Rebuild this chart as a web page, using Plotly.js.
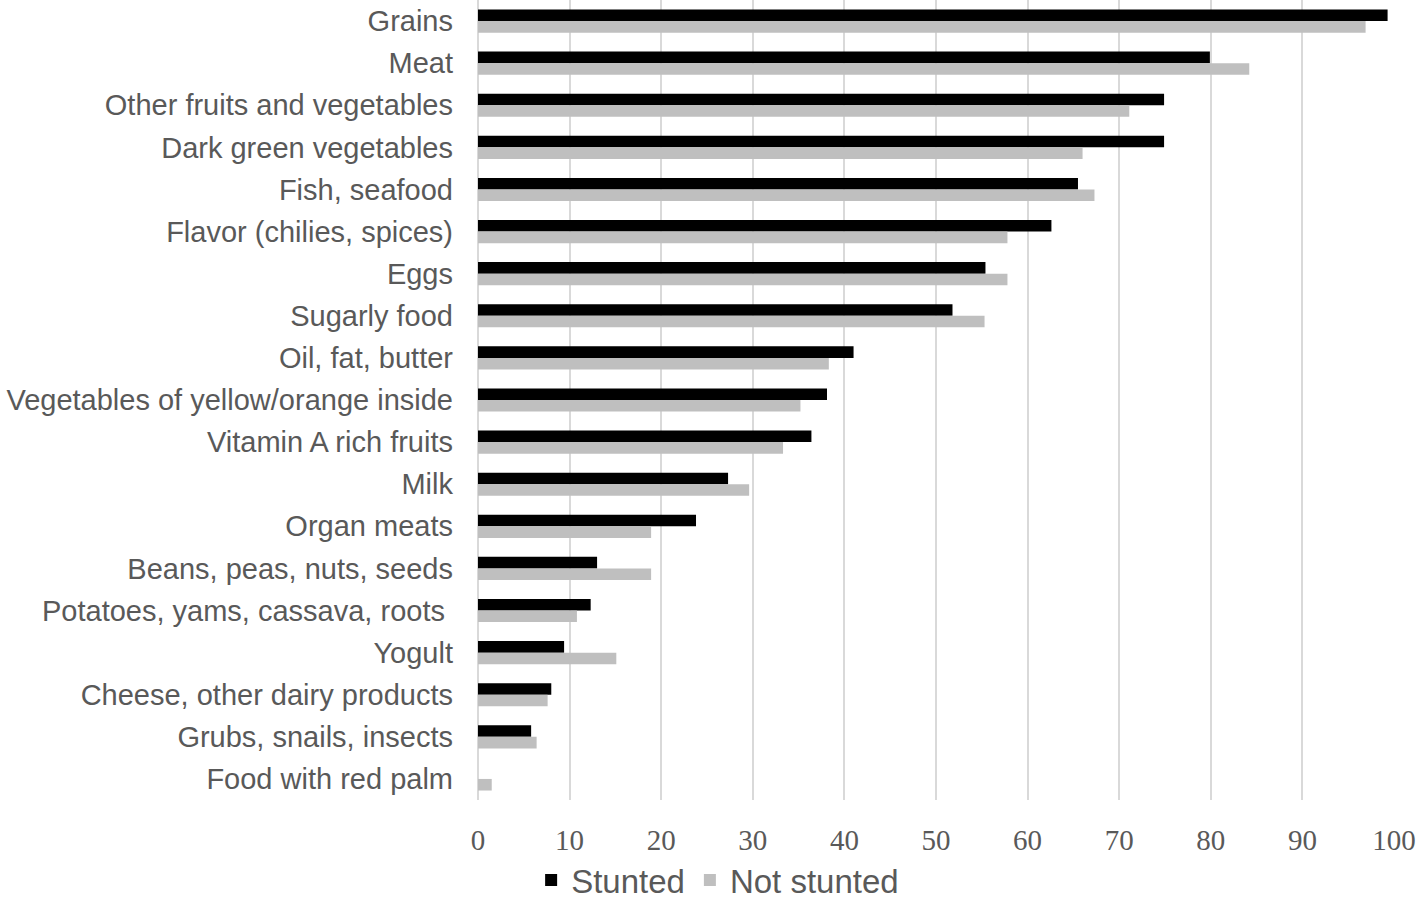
<!DOCTYPE html>
<html>
<head>
<meta charset="utf-8">
<script src="https://cdn.plot.ly/plotly-3.0.1.min.js"></script>
<style>html,body{margin:0;padding:0;background:#fff;}#chart{width:1418px;height:914px;}</style>
</head>
<body>
<div id="chart"></div>
<script>
const categories = [
  "Grains", "Meat", "Other fruits and vegetables", "Dark green vegetables",
  "Fish, seafood", "Flavor (chilies, spices)", "Eggs", "Sugarly food",
  "Oil, fat, butter", "Vegetables of yellow/orange inside", "Vitamin A rich fruits",
  "Milk", "Organ meats", "Beans, peas, nuts, seeds", "Potatoes, yams, cassava, roots ",
  "Yogult", "Cheese, other dairy products", "Grubs, snails, insects", "Food with red palm"
];
const stunted = [99.3, 79.9, 74.9, 74.9, 65.5, 62.6, 55.4, 51.8, 41.0, 38.1, 36.4, 27.3, 23.8, 13.0, 12.3, 9.4, 8.0, 5.8, 0];
const notStunted = [96.9, 84.2, 71.1, 66.0, 67.3, 57.8, 57.8, 55.3, 38.3, 35.2, 33.3, 29.6, 18.9, 18.9, 10.8, 15.1, 7.6, 6.4, 1.5];
const xTicks = [0, 10, 20, 30, 40, 50, 60, 70, 80, 90, 100];

const traces = [
  {type: "bar", orientation: "h", name: "Stunted", y: categories, x: stunted,
   marker: {color: "#000000", line: {width: 0}}},
  {type: "bar", orientation: "h", name: "Not stunted", y: categories, x: notStunted,
   marker: {color: "#bfbfbf", line: {width: 0}}}
];

const layout = {
  width: 1418, height: 914,
  margin: {l: 478, r: 24, t: 0, b: 114, pad: 0},
  paper_bgcolor: "#ffffff", plot_bgcolor: "#ffffff",
  barmode: "group", bargap: 0.45, bargroupgap: 0,
  font: {family: "Liberation Sans, Arial, sans-serif", color: "#595959"},
  xaxis: {
    range: [0, 100], tickvals: xTicks, ticktext: xTicks.map(String),
    showgrid: true, gridcolor: "#d9d9d9", gridwidth: 2,
    zeroline: true, zerolinecolor: "#d9d9d9", zerolinewidth: 2,
    showline: false, ticks: "", ticklabelstandoff: 20,
    tickfont: {family: "Liberation Serif, DejaVu Serif, serif", size: 29, color: "#595959"},
    fixedrange: true
  },
  yaxis: {
    autorange: "reversed", showgrid: false, zeroline: false, showline: false,
    ticks: "", ticklabelstandoff: 24,
    tickfont: {family: "Liberation Sans, Arial, sans-serif", size: 29, color: "#595959"},
    fixedrange: true
  },
  legend: {
    orientation: "h", x: 0.058, xanchor: "left", y: -0.1, yanchor: "middle",
    font: {family: "Liberation Sans, Arial, sans-serif", size: 33, color: "#595959"},
    itemwidth: 30, tracegroupgap: 0, itemclick: false
  },
  showlegend: true
};

Plotly.newPlot("chart", traces, layout, {displayModeBar: false, staticPlot: true});
</script>
</body>
</html>
